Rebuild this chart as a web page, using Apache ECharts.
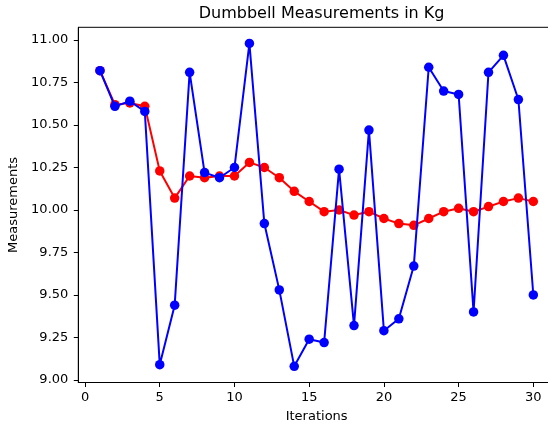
<!DOCTYPE html>
<html>
<head>
<meta charset="utf-8">
<script src="https://cdn.jsdelivr.net/npm/echarts@6/dist/echarts.min.js"></script>
<style>html,body{margin:0;padding:0;background:#fff;}#c{width:548px;height:427px;}</style>
</head>
<body>
<div id="c"></div>
<script>
const iterations = [1,2,3,4,5,6,7,8,9,10,11,12,13,14,15,16,17,18,19,20,21,22,23,24,25,26,27,28,29,30];
const measurements = [10.82,10.61,10.64,10.58,9.09,9.44,10.81,10.22,10.19,10.25,10.98,9.92,9.53,9.08,9.24,9.22,10.24,9.32,10.47,9.29,9.36,9.67,10.84,10.70,10.68,9.40,10.81,10.91,10.65,9.50];
const averages = [10.82,10.62,10.63,10.61,10.23,10.07,10.20,10.19,10.20,10.20,10.28,10.25,10.19,10.11,10.05,9.99,10.00,9.97,9.99,9.95,9.92,9.91,9.95,9.99,10.01,9.99,10.02,10.05,10.07,10.05];
const xTicks = [0,5,10,15,20,25,30];
const yTicks = [9.00,9.25,9.50,9.75,10.00,10.25,10.50,10.75,11.00];

const chart = echarts.init(document.getElementById('c'), null, {renderer:'canvas'});
const font = 'DejaVu Sans';
chart.setOption({
  animation:false,
  backgroundColor:'#fff',
  title:{text:'Dumbbell Measurements in Kg', left:316.6, textAlign:'center', top:1,
    textStyle:{fontFamily:font, fontSize:16, fontWeight:'normal', color:'#000'}},
  grid:{left:78.3, right:-7, top:27.3, bottom:44.5, outerBoundsMode:'none', containLabel:false,
    show:true, borderColor:'#000', borderWidth:1, backgroundColor:'transparent'},
  xAxis:{type:'value', min:-0.45, max:31.45,
    name:'Iterations', nameLocation:'middle', nameGap:28,
    nameTextStyle:{fontFamily:font, fontSize:13, color:'#000'},
    axisLine:{show:true, onZero:false, lineStyle:{color:'#000', width:1}},
    axisTick:{show:true, length:4.5, inside:false, customValues:xTicks, lineStyle:{color:'#000'}},
    axisLabel:{customValues:xTicks, fontFamily:font, fontSize:13, color:'#000', margin:9},
    splitLine:{show:false}},
  yAxis:{type:'value', min:8.985, max:11.075,
    name:'Measurements', nameLocation:'middle', nameGap:53, nameRotate:90,
    nameTextStyle:{fontFamily:font, fontSize:13, color:'#000'},
    axisLine:{show:true, onZero:false, lineStyle:{color:'#000', width:1}},
    axisTick:{show:true, length:4.5, inside:false, customValues:yTicks, lineStyle:{color:'#000'}},
    axisLabel:{customValues:yTicks, fontFamily:font, fontSize:13, color:'#000', margin:10,
      formatter:v=>v.toFixed(2)},
    splitLine:{show:false}},
  series:[
    {type:'line', data:iterations.map((x,i)=>[x,averages[i]]), symbol:'circle', symbolSize:9.5,
      itemStyle:{color:'#ff0000'}, lineStyle:{color:'#ff0000', width:2}, z:2},
    {type:'line', data:iterations.map((x,i)=>[x,measurements[i]]), symbol:'circle', symbolSize:9.5,
      itemStyle:{color:'#0000ff'}, lineStyle:{color:'#0000ff', width:2}, z:3}
  ]
});
</script>
</body>
</html>
